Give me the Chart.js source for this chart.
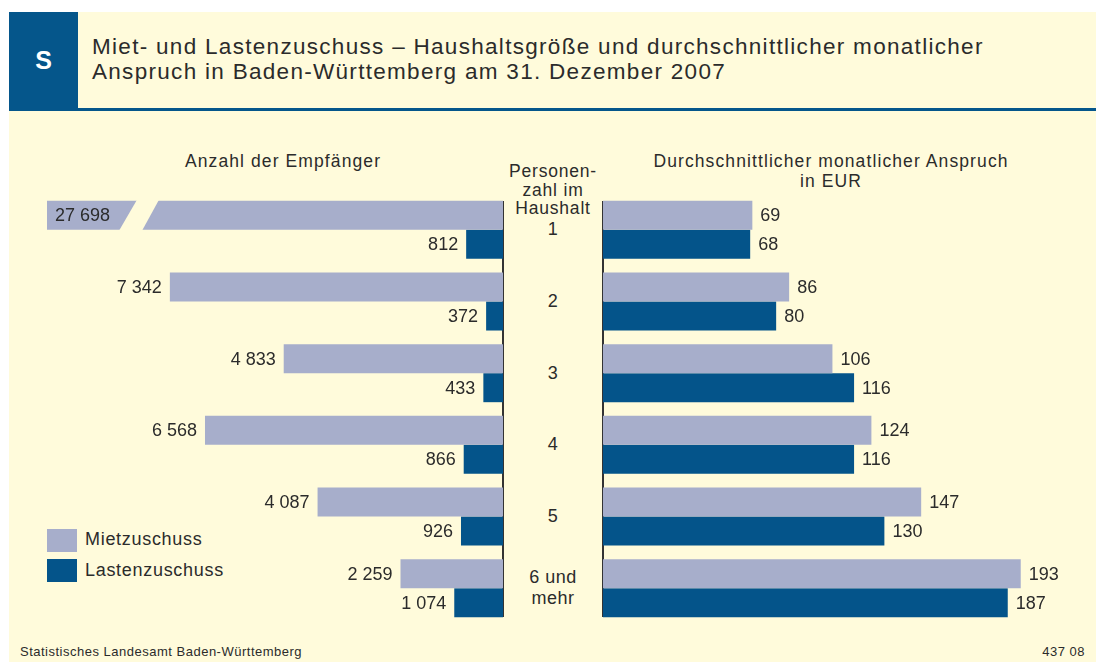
<!DOCTYPE html>
<html lang="de">
<head>
<meta charset="utf-8">
<script src="https://cdn.jsdelivr.net/npm/chart.js@4"></script>
<style>
  html, body { margin: 0; padding: 0; background: #fff; }
  body { width: 1096px; height: 662px; position: relative; overflow: hidden;
         font-family: "Liberation Sans", Arial, sans-serif; color: #2b2b2b; }
  .panel { position: absolute; left: 9px; top: 12px; right: 0; bottom: 0; background: #fffbdb; }
  .head { position: absolute; left: 9px; top: 12px; right: 0; height: 96px; border-bottom: 3px solid #05568b; }
  .sbox { position: absolute; left: 9px; top: 12px; width: 69px; height: 96px; background: #05568b;
          color: #fff; font-weight: bold; font-size: 25px; text-align: center; line-height: 96px; }
  .title { position: absolute; left: 92px; top: 34px; font-size: 22.5px; line-height: 25px;
           letter-spacing: 1.3px; color: #2b2b2b; }
  .t { position: absolute; white-space: nowrap; }
  .c { text-align: center; transform: translateX(-50%); }
  .sub { font-size: 17.5px; letter-spacing: 1.1px; line-height: 20px; }
  .vline { position: absolute; top: 201px; height: 416px; width: 2px; background: #333; }
  .sw { position: absolute; left: 47px; width: 30px; height: 23px; }
  .leg { font-size: 18px; letter-spacing: 0.7px; }
  .foot { font-size: 13px; letter-spacing: 0.5px; }
  canvas { position: absolute; left: 0; top: 0; }
</style>
</head>
<body>
<div class="panel"></div>
<div class="head"></div>
<div class="sbox">S</div>
<div class="title">Miet- und Lastenzuschuss – Haushaltsgröße und durchschnittlicher monatlicher<br>Anspruch in Baden-Württemberg am 31. Dezember 2007</div>

<div class="t c sub" style="left:283px; top:151px;">Anzahl der Empfänger</div>
<div class="t c sub" style="left:831px; top:151px;">Durchschnittlicher monatlicher Anspruch<br>in EUR</div>
<div class="t c sub" style="left:553px; top:162px; line-height:18.5px; letter-spacing:0.8px;">Personen-<br>zahl im<br>Haushalt</div>
<div id="cats"></div>

<div class="vline" style="left:502px;"></div>
<div class="vline" style="left:602px;"></div>

<div class="sw" style="top:529px; background:#a7aecb;"></div>
<div class="t leg" style="left:85px; top:529px;">Mietzuschuss</div>
<div class="sw" style="top:559px; background:#04548a;"></div>
<div class="t leg" style="left:85px; top:560px;">Lastenzuschuss</div>

<div class="t foot" style="left:20px; top:644px;">Statistisches Landesamt Baden-Württemberg</div>
<div class="t foot" style="right:11px; top:644px;">437 08</div>

<canvas id="left" width="1096" height="662"></canvas>
<canvas id="right" width="1096" height="662"></canvas>

<script>
// Personenzahl im Haushalt
const categories = ['1', '2', '3', '4', '5', '6 und\nmehr'];
// Anzahl der Empfänger
const mietAnzahl = [27698, 7342, 4833, 6568, 4087, 2259];
const lastenAnzahl = [812, 372, 433, 866, 926, 1074];
// durchschnittlicher monatlicher Anspruch in EUR
const mietEur = [69, 86, 106, 124, 147, 193];
const lastenEur = [68, 80, 116, 116, 130, 187];

const MIET_COL = '#a7aecb';
const LASTEN_COL = '#04548a';
const BG = '#fffbdb';

// category labels in the middle column, placed on the right chart's y scale
function placeCats(chart) {
  const yScale = chart.scales.y;
  const box = document.getElementById('cats');
  box.innerHTML = '';
  categories.forEach((c, i) => {
    const lines = c.split('\n');
    const d = document.createElement('div');
    d.className = 't c';
    d.style.left = '553px';
    d.style.fontSize = '18px';
    d.style.letterSpacing = '0.5px';
    d.style.lineHeight = '21px';
    d.style.top = (yScale.getPixelForValue(i) - lines.length * 21 / 2) + 'px';
    d.innerHTML = lines.join('<br>');
    box.appendChild(d);
  });
}

function fmt(v) {
  return String(v).replace(/\B(?=(\d{3})+(?!\d))/g, ' ');
}

const valueLabels = {
  id: 'valueLabels',
  afterDatasetsDraw(chart, args, opts) {
    const ctx = chart.ctx;
    const area = chart.chartArea;
    const max = chart.scales.x.max;
    ctx.save();
    ctx.font = '18px "Liberation Sans", Arial, sans-serif';
    ctx.fillStyle = '#2b2b2b';
    ctx.textBaseline = 'middle';
    chart.data.datasets.forEach((ds, di) => {
      chart.getDatasetMeta(di).data.forEach((el, i) => {
        const v = ds.data[i];
        if (opts.side === 'left') {
          if (v > max) {
            // broken bar: cut a slanted gap, write value inside
            const top = el.y - el.height / 2 - 1, bot = el.y + el.height / 2 + 1;
            ctx.fillStyle = BG;
            ctx.beginPath();
            ctx.moveTo(area.left + 90, top);
            ctx.lineTo(area.left + 112, top);
            ctx.lineTo(area.left + 95, bot);
            ctx.lineTo(area.left + 72, bot);
            ctx.closePath();
            ctx.fill();
            ctx.fillStyle = '#2b2b2b';
            ctx.textAlign = 'left';
            ctx.fillText(fmt(v), area.left + 8, el.y + 1);
          } else {
            ctx.textAlign = 'right';
            ctx.fillText(fmt(v), el.x - 8, el.y + 1);
          }
        } else {
          ctx.textAlign = 'left';
          ctx.fillText(fmt(v), el.x + 8, el.y + 1);
        }
      });
    });
    ctx.restore();
  }
};

function makeChart(id, a, b, xOpts, pad, side, onDone) {
  return new Chart(document.getElementById(id), {
    type: 'bar',
    data: {
      labels: categories,
      datasets: [
        { label: 'Mietzuschuss', data: a, backgroundColor: MIET_COL, barPercentage: 1, categoryPercentage: 0.81 },
        { label: 'Lastenzuschuss', data: b, backgroundColor: LASTEN_COL, barPercentage: 1, categoryPercentage: 0.81 }
      ]
    },
    options: {
      indexAxis: 'y',
      responsive: false,
      animation: false,
      layout: { padding: pad },
      scales: {
        x: Object.assign({ display: false, min: 0 }, xOpts),
        y: { display: false }
      },
      plugins: {
        legend: { display: false },
        tooltip: { enabled: false },
        valueLabels: { side: side }
      }
    },
    plugins: [valueLabels, { id: 'done', afterRender: onDone || (() => {}) }]
  });
}

makeChart('left', mietAnzahl, lastenAnzahl, { max: 10050, reverse: true },
  { left: 47, right: 1096 - 503, top: 194, bottom: 662 - 624 }, 'left');
makeChart('right', mietEur, lastenEur, { max: 225 },
  { left: 603, right: 1096 - 1090, top: 194, bottom: 662 - 624 }, 'right', placeCats);
</script>
</body>
</html>
